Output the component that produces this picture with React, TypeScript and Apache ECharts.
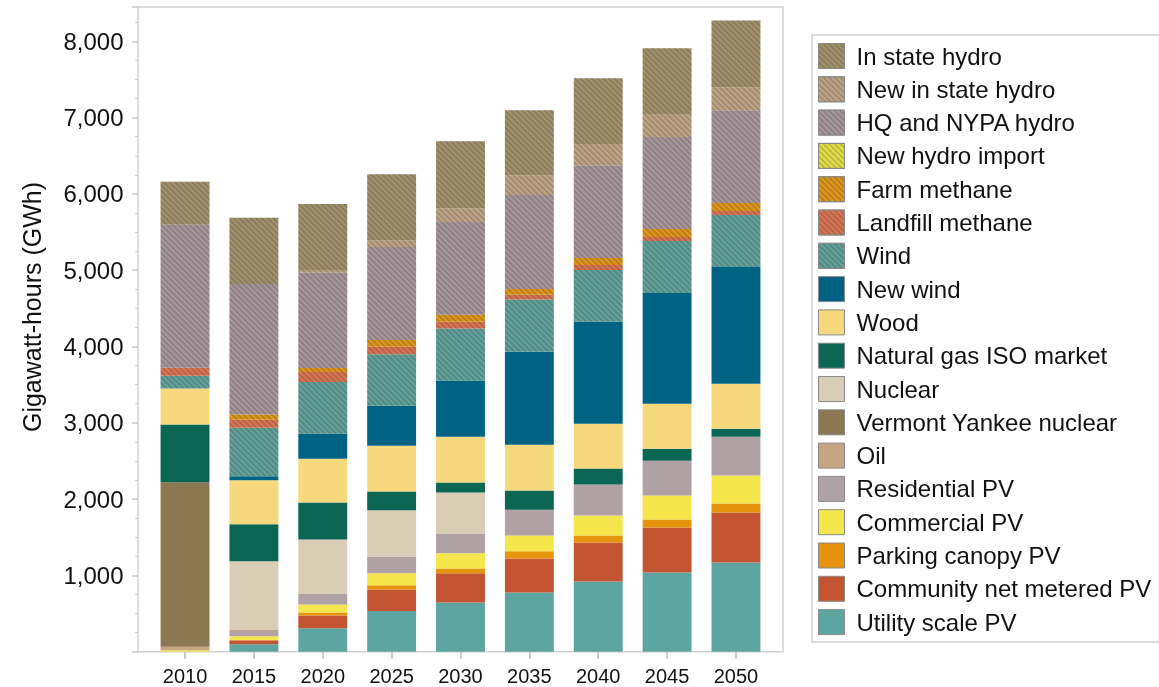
import React, { useEffect, useRef } from "react";
import * as echarts from "echarts";

const years = ["2010", "2015", "2020", "2025", "2030", "2035", "2040", "2045", "2050"];

// stacking order, bottom -> top
const utilityPV = [0, 97, 306, 532, 645, 776, 921, 1039, 1170];
const communityPV = [0, 52, 170, 284, 383, 446, 510, 589, 654];
const parkingPV = [0, 0, 39, 54, 63, 94, 92, 105, 118];
const commercialPV = [20, 54, 105, 158, 198, 207, 262, 314, 366];
const residentialPV = [0, 68, 144, 220, 261, 339, 405, 457, 510];
const oil = [45, 12, 0, 0, 0, 0, 0, 0, 0];
const vermontYankee = [2155, 0, 0, 0, 0, 0, 0, 0, 0];
const nuclear = [0, 903, 706, 605, 537, 0, 0, 0, 0];
const naturalGas = [759, 484, 485, 247, 131, 252, 210, 157, 105];
const wood = [471, 576, 575, 600, 599, 599, 589, 589, 589];
const newWind = [0, 52, 327, 523, 734, 1217, 1334, 1453, 1531];
const wind = [166, 637, 677, 675, 686, 685, 680, 680, 680];
const landfillMethane = [105, 105, 131, 99, 89, 63, 66, 52, 52];
const farmMethane = [0, 69, 52, 90, 90, 77, 92, 105, 105];
const newHydroImport = [0, 0, 0, 0, 0, 0, 0, 0, 0];
const hqNypaHydro = [1875, 1710, 1251, 1217, 1217, 1230, 1216, 1205, 1216];
const newInStateHydro = [0, 0, 26, 85, 175, 261, 276, 301, 301];
const inStateHydro = [563, 868, 873, 870, 883, 850, 863, 864, 876];

const yAxisTitle = "Gigawatt-hours (GWh)";

const seriesDefs = [
  { name: "Utility scale PV", data: utilityPV, color: "#5ca5a0", hatch: false },
  { name: "Community net metered PV", data: communityPV, color: "#c35533", hatch: false },
  { name: "Parking canopy PV", data: parkingPV, color: "#e6940c", hatch: false },
  { name: "Commercial PV", data: commercialPV, color: "#f5e64b", hatch: false },
  { name: "Residential PV", data: residentialPV, color: "#b0a1a5", hatch: false },
  { name: "Oil", data: oil, color: "#c8a582", hatch: false },
  { name: "Vermont Yankee nuclear", data: vermontYankee, color: "#8b7852", hatch: false },
  { name: "Nuclear", data: nuclear, color: "#d9cdb6", hatch: false },
  { name: "Natural gas ISO market", data: naturalGas, color: "#0b6654", hatch: false },
  { name: "Wood", data: wood, color: "#f6d87d", hatch: false },
  { name: "New wind", data: newWind, color: "#006384", hatch: false },
  { name: "Wind", data: wind, color: "#62a39e", hatch: true },
  { name: "Landfill methane", data: landfillMethane, color: "#da7556", hatch: true },
  { name: "Farm methane", data: farmMethane, color: "#e0971c", hatch: true },
  { name: "New hydro import", data: newHydroImport, color: "#e4e048", hatch: true },
  { name: "HQ and NYPA hydro", data: hqNypaHydro, color: "#a8989e", hatch: true },
  { name: "New in state hydro", data: newInStateHydro, color: "#c0a688", hatch: true },
  { name: "In state hydro", data: inStateHydro, color: "#a2936e", hatch: true },
];

const FONT = "Liberation Sans, Arial, Helvetica, sans-serif";

export default function App() {
  const ref = useRef<HTMLDivElement>(null);
  useEffect(() => {
    if (!ref.current) return;
    const chart = echarts.init(ref.current, null, { renderer: "svg" });
    const series = seriesDefs.map((s) => ({
      name: s.name,
      type: "bar",
      stack: "total",
      barWidth: "71%",
      data: s.data,
      itemStyle: {
        color: s.color,
        decal: s.hatch
          ? {
              symbol: "rect",
              symbolSize: 1,
              color: "rgba(40,30,20,0.2)",
              dashArrayX: [1, 0],
              dashArrayY: [1.2, 1.2],
              rotation: Math.PI / 4,
            }
          : "none",
      },
      emphasis: { disabled: true },
    }));
    chart.setOption({
      animation: false,
      grid: { left: 150.6, right: 388.6, top: 7, bottom: 35.3, containLabel: false },
      xAxis: {
        type: "category",
        data: years,
        axisLine: { show: false },
        axisTick: { show: true, alignWithLabel: true, length: 7, lineStyle: { color: "#c8c8c8", width: 2 } },
        axisLabel: { fontSize: 20, color: "#111", fontFamily: FONT, margin: 14 },
      },
      yAxis: {
        type: "value",
        min: 0,
        max: 8450,
        interval: 1000,
        offset: 12.6,
        axisLine: { show: false },
        splitLine: { show: false },
        axisTick: { show: true, length: 6, lineStyle: { color: "#c8c8c8", width: 1.5 } },
        minorTick: { show: true, splitNumber: 4, length: 3, lineStyle: { color: "#d0d0d0", width: 1 } },
        axisLabel: {
          fontSize: 24,
          color: "#111",
          fontFamily: FONT,
          margin: 14.5,
          formatter: (v: number) => (v > 0 && v % 1000 === 0 ? v.toLocaleString("en-US") : ""),
        },
      },
      legend: {
        orient: "vertical",
        left: 812,
        top: 35,
        height: 640,
        itemWidth: 26,
        itemHeight: 25,
        itemGap: 7.3,
        padding: [8, 8, 7, 6],
        borderColor: "#d0d0d0",
        borderWidth: 1.5,
        icon: "rect",
        itemStyle: { borderColor: "#8a8a8a", borderWidth: 1 },
        textStyle: { fontSize: 24, color: "#111", fontFamily: FONT, padding: [0, 0, 0, 7] },
        selectedMode: false,
        data: seriesDefs.map((s) => s.name).reverse(),
      },
      graphic: [
        {
          type: "rect",
          shape: { x: 138, y: 7, width: 645, height: 644.7 },
          style: { fill: "none", stroke: "#d2d2d2", lineWidth: 1.5 },
          silent: true,
        },
        {
          type: "text",
          x: 32,
          y: 307,
          rotation: Math.PI / 2,
          style: {
            text: yAxisTitle,
            fontSize: 25,
            fontFamily: FONT,
            fill: "#111",
            align: "center",
            verticalAlign: "middle",
          },
          silent: true,
        },
      ],
      series,
    });
    return () => chart.dispose();
  }, []);
  return <div ref={ref} style={{ position: "fixed", left: 0, top: 0, width: 1159, height: 687 }} />;
}
